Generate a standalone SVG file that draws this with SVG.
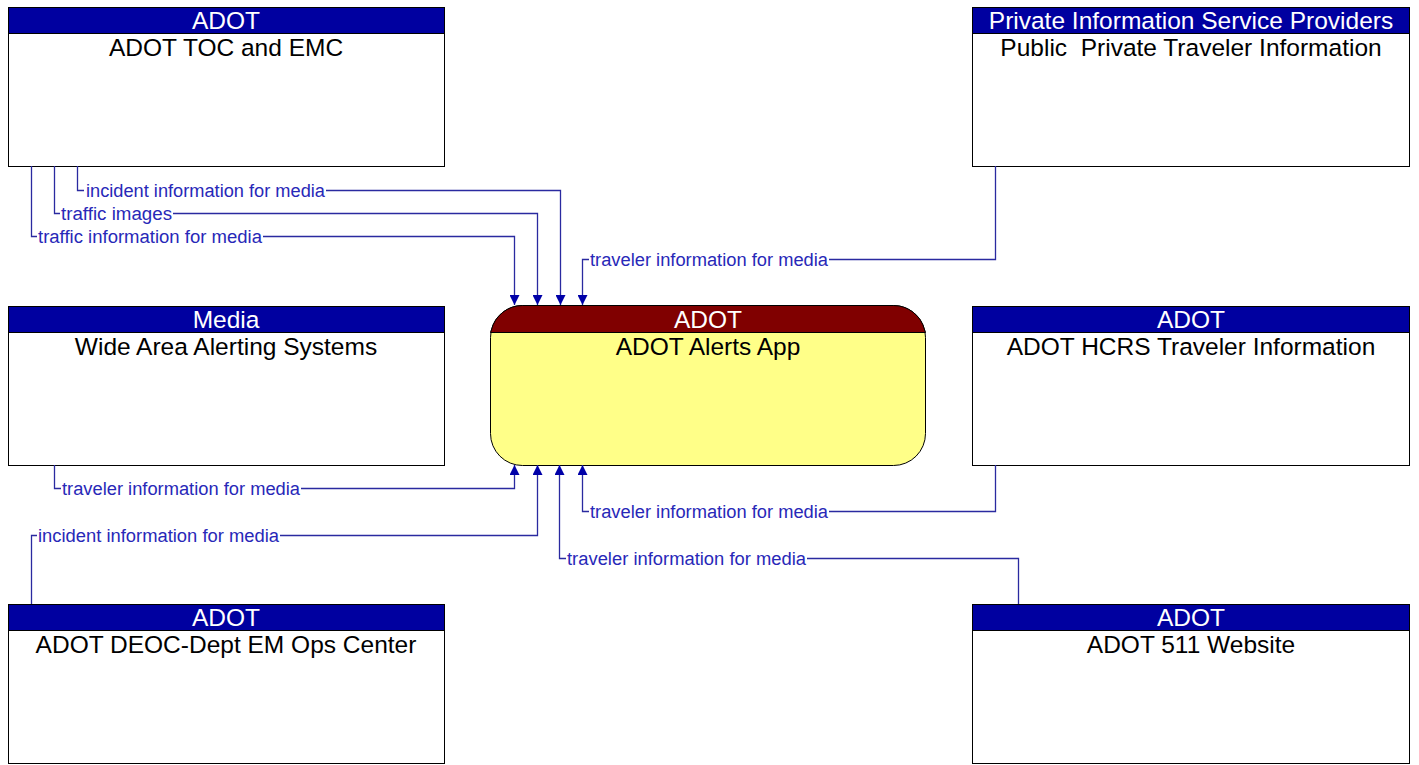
<svg xmlns="http://www.w3.org/2000/svg" width="1419" height="765" viewBox="0 0 1419 765">
<defs>
<style>
.box{fill:#ffffff;stroke:#000000;stroke-width:1}
.hdr{fill:#0000a0;stroke:#000000;stroke-width:1}
.ht{font-family:"Liberation Sans",Arial,sans-serif;font-size:24.5px;fill:#ffffff;text-anchor:middle}
.tt{font-family:"Liberation Sans",Arial,sans-serif;font-size:24.5px;fill:#000000;text-anchor:middle;white-space:pre}
.cn{fill:none;stroke:#2a2aa0;stroke-width:1.3}
.lb{font-family:"Liberation Sans",Arial,sans-serif;font-size:18px;fill:#2828b8}
</style>
<marker id="arr" viewBox="0 0 10 10" refX="10" refY="5" markerWidth="10" markerHeight="10" markerUnits="userSpaceOnUse" orient="auto">
<path d="M0,0 L10,5 L0,10 Z" fill="#0000a8"/>
</marker>
</defs>
<rect width="1419" height="765" fill="#ffffff"/>

<g id="toc">
<rect class="box" x="8.5" y="7.5" width="436" height="159"/>
<rect class="hdr" x="8.5" y="7.5" width="436" height="26"/>
<text class="ht" x="226" y="29">ADOT</text>
<text class="tt" x="226" y="56">ADOT TOC and EMC</text>
</g>

<g id="ppti">
<rect class="box" x="972.5" y="7.5" width="437" height="159"/>
<rect class="hdr" x="972.5" y="7.5" width="437" height="26"/>
<text class="ht" x="1191" y="29">Private Information Service Providers</text>
<text class="tt" x="1191" y="56" xml:space="preserve">Public  Private Traveler Information</text>
</g>

<g id="waas">
<rect class="box" x="8.5" y="306.5" width="436" height="159"/>
<rect class="hdr" x="8.5" y="306.5" width="436" height="26"/>
<text class="ht" x="226" y="328">Media</text>
<text class="tt" x="226" y="355">Wide Area Alerting Systems</text>
</g>

<g id="alerts">
<path d="M522.5,305.5 H893.5 A32,32 0 0 1 925.5,337.5 V433.5 A32,32 0 0 1 893.5,465.5 H522.5 A32,32 0 0 1 490.5,433.5 V337.5 A32,32 0 0 1 522.5,305.5 Z" fill="#ffff88" stroke="#000000" stroke-width="1"/>
<path d="M522.5,305.5 H893.5 A32,32 0 0 1 924.6,330 L925.5,332.5 H490.5 L491.4,330 A32,32 0 0 1 522.5,305.5 Z" fill="#800000" stroke="#000000" stroke-width="1"/>
<text class="ht" x="708" y="328">ADOT</text>
<text class="tt" x="708" y="355">ADOT Alerts App</text>
</g>

<g id="hcrs">
<rect class="box" x="972.5" y="306.5" width="437" height="159"/>
<rect class="hdr" x="972.5" y="306.5" width="437" height="26"/>
<text class="ht" x="1191" y="328">ADOT</text>
<text class="tt" x="1191" y="355">ADOT HCRS Traveler Information</text>
</g>

<g id="deoc">
<rect class="box" x="8.5" y="604.5" width="436" height="159"/>
<rect class="hdr" x="8.5" y="604.5" width="436" height="26"/>
<text class="ht" x="226" y="626">ADOT</text>
<text class="tt" x="226" y="653">ADOT DEOC-Dept EM Ops Center</text>
</g>

<g id="w511">
<rect class="box" x="972.5" y="604.5" width="437" height="159"/>
<rect class="hdr" x="972.5" y="604.5" width="437" height="26"/>
<text class="ht" x="1191" y="626">ADOT</text>
<text class="tt" x="1191" y="653">ADOT 511 Website</text>
</g>

<g id="connectors">
<path class="cn" d="M77.5,166 V190.5 H84 M326,190.5 H560.5 V305" marker-end="url(#arr)"/>
<text class="lb" x="86" y="196.5" textLength="239" lengthAdjust="spacingAndGlyphs">incident information for media</text>

<path class="cn" d="M54.5,166 V213.5 H60 M173,213.5 H537.5 V305" marker-end="url(#arr)"/>
<text class="lb" x="61" y="219.5" textLength="111" lengthAdjust="spacingAndGlyphs">traffic images</text>

<path class="cn" d="M31.5,166 V236.5 H37 M263,236.5 H514.5 V305" marker-end="url(#arr)"/>
<text class="lb" x="38" y="242.5" textLength="224" lengthAdjust="spacingAndGlyphs">traffic information for media</text>

<path class="cn" d="M995.5,166 V259.5 H829 M589,259.5 H582.5 V305" marker-end="url(#arr)"/>
<text class="lb" x="590" y="265.5" textLength="238" lengthAdjust="spacingAndGlyphs">traveler information for media</text>

<path class="cn" d="M54.5,465 V488.5 H61 M301,488.5 H514.5 V465" marker-end="url(#arr)"/>
<text class="lb" x="62" y="494.5" textLength="238" lengthAdjust="spacingAndGlyphs">traveler information for media</text>

<path class="cn" d="M31.5,604 V535.5 H37 M280,535.5 H537.5 V465" marker-end="url(#arr)"/>
<text class="lb" x="38" y="541.5" textLength="241" lengthAdjust="spacingAndGlyphs">incident information for media</text>

<path class="cn" d="M995.5,465 V511.5 H829 M589,511.5 H582.5 V465" marker-end="url(#arr)"/>
<text class="lb" x="590" y="517.5" textLength="238" lengthAdjust="spacingAndGlyphs">traveler information for media</text>

<path class="cn" d="M1018.5,604 V558.5 H807 M566,558.5 H559.5 V465" marker-end="url(#arr)"/>
<text class="lb" x="567" y="564.5" textLength="239" lengthAdjust="spacingAndGlyphs">traveler information for media</text>
</g>
</svg>
